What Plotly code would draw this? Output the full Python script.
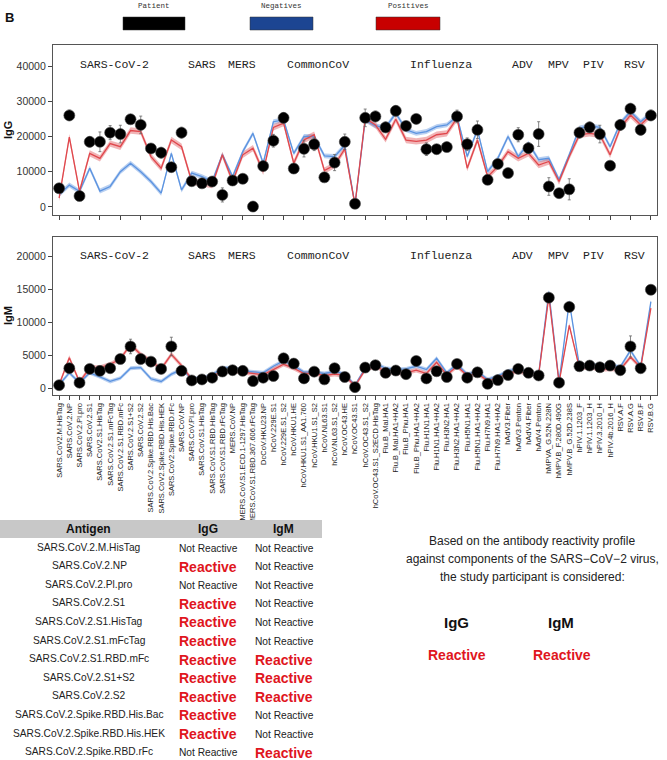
import plotly.graph_objects as go

W, H = 667, 760

ANTIGENS = [
    "SARS.CoV2.M.HisTag", "SARS.CoV.2.NP", "SARS.CoV.2.Pl.pro", "SARS.CoV.2.S1",
    "SARS.CoV2.S1.HisTag", "SARS.CoV.2.S1.mFcTag", "SARS.CoV.2.S1.RBD.mFc", "SARS.CoV.2.S1+S2",
    "SARS.CoV.2.S2", "SARS.CoV.2.Spike.RBD.His.Bac", "SARS.CoV2.Spike.RBD.His.HEK",
    "SARS.CoV2.Spike.RBD.rFc", "SARS.CoV.NP", "SARS.CoV.Pl.pro", "SARS.CoV.S1.HisTag",
    "SARS.CoV.S1.RBD.HisTag", "SARS.CoV.S1.RBD.rFcTag", "MERS.CoV.NP",
    "MERS.CoV.S1.ECD.1-1297.HisTag", "MERS.CoV.S1.RBD.367.606.rFcTag", "DcCoV.HKU23.NP",
    "hCoV.229E.S1", "hCoV.229E.S1_S2", "hCoV.HKU1.HE", "hCoV.HKU1.S1_AA1.760",
    "hCoV.HKU1.S1_S2", "hCoV.NL63.S1", "hCoV.NL63.S1_S2", "hCoV.OC43.HE", "hCoV.OC43.S1",
    "hCoV.OC43.S1_S2", "hCoV.OC43.S1_S2ECD.HisTag", "Flu.B_Mal.HA1", "Flu.B_Mal.HA1+HA2",
    "Flu.B_Phu.HA1", "Flu.B_Phu.HA1+HA2", "Flu.H1N1.HA1", "Flu.H1N1.HA1+HA2", "Flu.H3N2.HA1",
    "Flu.H3N2.HA1+HA2", "Flu.H5N1.HA1", "Flu.H5N1.HA1+HA2", "Flu.H7N9.HA1", "Flu.H7N9.HA1+HA2",
    "hAdV3.Fiber", "hAdV3.Penton", "hAdV4.Fiber", "hAdV4.Penton", "hMPVA_G.52N.228N",
    "hMPV.B_F.280D.490G", "hMPV.B_G.52D.238S", "hPIV.1.1203_F", "hPIV.1.1203_H",
    "hPIV.3.2010_H", "hPIV.4b.2016_H", "RSV.A.F", "RSV.A.G", "RSV.B.F", "RSV.B.G",
]

IGG_PATIENT = [5300, 26000, 3100, 18500, 18500, 21100, 20700, 24900, 23300, 16600, 15400, 11300,
               21100, 7300, 6700, 7200, 3400, 7500, 8000, 100, 11600, 18800, 25300, 10900, 16500,
               17800, 8400, 12600, 18500, 900, 25300, 25700, 22600, 27300, 23000, 25000, 16400,
               16400, 17000, 25700, 17800, 21900, 7700, 12200, 9600, 20500, 16700, 20700, 5800,
               3900, 5000, 21100, 22600, 20700, 11700, 23300, 27900, 21900, 26000]
IGG_PATIENT_ERR = [700, 1500, 800, 1500, 2800, 2000, 2500, 1200, 2500, 1000, 1500, 1000,
                   1500, 800, 700, 700, 2000, 800, 800, 500, 800, 1800, 1500, 1200, 2300,
                   1800, 1000, 2300, 2200, 500, 2500, 1500, 1500, 1500, 1200, 1200, 1800,
                   1000, 1000, 1800, 1800, 2500, 900, 1000, 1000, 2000, 1500, 3500, 2500,
                   1000, 3000, 1500, 1500, 2500, 1000, 1500, 1500, 1500, 1500]
IGG_POS = [2500, 19800, 4400, 15200, 13800, 18000, 17100, 21700, 21400, 14300, 11000, 19000,
           17100, 7200, 6700, 6200, 14800, 7200, 14800, 16700, 10000, 22600, 23800, 12400, 19000,
           20500, 10300, 11900, 16500, 600, 25200, 23300, 19200, 24900, 19000, 18600, 19000,
           20500, 20900, 25200, 11000, 19000, 8600, 11500, 15700, 13800, 15200, 11900, 12900,
           7200, 14300, 20500, 20900, 20500, 14800, 22400, 26100, 23300, 26100]
IGG_NEG = [3500, 6200, 4400, 11000, 4500, 5800, 10000, 12400, 10000, 7200, 3900, 15200,
           4800, 9600, 8600, 7200, 14800, 8600, 15700, 20900, 12400, 24200, 24700, 15200, 20000,
           20000, 14500, 14300, 17500, 600, 24700, 23000, 22600, 26600, 21900, 20900, 21400,
           22800, 23300, 25700, 14300, 21900, 10000, 13800, 20000, 14300, 18100, 13400, 13800,
           7700, 14800, 22400, 23000, 22600, 17100, 23800, 27100, 24200, 26600]

IGM_PATIENT = [430, 3000, 800, 2900, 2600, 3000, 4400, 6300, 4400, 4000, 2900, 6300,
               2600, 1150, 1300, 1560, 2500, 2700, 2600, 1050, 1560, 1820, 4500, 3700, 1460,
               2480, 1310, 3000, 1670, 130, 3100, 3460, 2300, 2650, 2100, 4100, 1460, 2540,
               1670, 3650, 1560, 2380, 640, 1200, 1970, 2900, 2300, 1900, 13700, 800, 12300,
               3300, 3400, 3150, 3400, 2700, 6300, 3000, 14900]
IGM_PATIENT_ERR = [300, 500, 300, 400, 400, 400, 500, 1100, 700, 400, 400, 1400,
                   400, 300, 300, 300, 400, 400, 400, 300, 300, 300, 500, 500, 300,
                   400, 300, 500, 300, 200, 400, 400, 400, 400, 300, 500, 300, 400,
                   300, 500, 300, 400, 300, 300, 300, 400, 400, 300, 600, 300, 700,
                   400, 400, 400, 400, 400, 1600, 400, 500]
IGM_POS = [500, 4600, 900, 3100, 3100, 3600, 4400, 6600, 5100, 4100, 2900, 5100,
           3400, 1300, 1300, 1800, 2500, 2600, 2400, 2200, 2000, 2800, 3600, 3000, 2200,
           2200, 1900, 2100, 1900, 300, 2800, 3300, 2500, 2300, 2300, 2700, 2200, 3900,
           2000, 3300, 1900, 2200, 1100, 1500, 2300, 2500, 2200, 2000, 13900, 800, 9500,
           3000, 3200, 2800, 2900, 2800, 4700, 3100, 12100]
IGM_NEG = [500, 2300, 800, 2300, 1700, 1000, 1500, 3000, 3100, 1400, 1000, 2100,
           2800, 1500, 1500, 2000, 3000, 3100, 2600, 2500, 2300, 3300, 4100, 3400, 2400,
           2400, 2200, 2500, 2100, 400, 3000, 3700, 3000, 2800, 2900, 3300, 2800, 4500,
           2300, 3600, 2100, 2500, 1300, 1800, 2600, 2900, 2400, 2100, 14600, 900, 13100,
           3300, 3600, 3400, 3500, 3200, 5700, 3300, 13100]

IGG_POS_BAND = 900
IGG_NEG_BAND = 700
IGM_POS_BAND = 350
IGM_NEG_BAND = 300

GROUPS = ["SARS-CoV-2", "SARS", "MERS", "CommonCoV", "Influenza", "ADV", "MPV", "PIV", "RSV"]
GROUP_POS = [5.4, 14.0, 17.9, 25.4, 37.4, 45.4, 48.9, 52.4, 56.4]

LEGEND_NAMES = ["Patient", "Negatives", "Positives"]
LEGEND_COLORS = ["#000000", "#1c4592", "#c80000"]

TABLE_ANTIGENS = [
    "SARS.CoV.2.M.HisTag", "SARS.CoV.2.NP", "SARS.CoV.2.Pl.pro", "SARS.CoV.2.S1",
    "SARS.CoV.2.S1.HisTag", "SARS.CoV.2.S1.mFcTag", "SARS.CoV.2.S1.RBD.mFc",
    "SARS.CoV.2.S1+S2", "SARS.CoV.2.S2", "SARS.CoV.2.Spike.RBD.His.Bac",
    "SARS.CoV.2.Spike.RBD.His.HEK", "SARS.CoV.2.Spike.RBD.rFc",
]
TABLE_IGG = ["Not Reactive", "Reactive", "Not Reactive", "Reactive", "Reactive", "Reactive",
             "Reactive", "Reactive", "Reactive", "Reactive", "Reactive", "Not Reactive"]
TABLE_IGM = ["Not Reactive", "Not Reactive", "Not Reactive", "Not Reactive", "Not Reactive",
             "Not Reactive", "Reactive", "Reactive", "Reactive", "Not Reactive",
             "Not Reactive", "Reactive"]

SUMMARY_LINES = ["Based on the antibody reactivity profile",
                 "against components of the SARS\u2212CoV\u22122 virus,",
                 "the study participant is considered:"]
SUMMARY_IGG = "Reactive"
SUMMARY_IGM = "Reactive"

SANS = "Liberation Sans, Arial, Helvetica, sans-serif"
MONO = "Liberation Mono, Courier New, monospace"
RED_TXT = "#e0161e"
POS_LINE = "#e0474c"
POS_FILL = "rgba(225,90,95,0.45)"
NEG_LINE = "#5b93e0"
NEG_FILL = "rgba(100,150,225,0.45)"


def px(x):
    return x / W


def py(y):
    return 1 - y / H


fig = go.Figure()


def add_panel(xa, ya, pat, err, pos, neg, pos_band, neg_band):
    lo_n = [v - neg_band for v in neg]
    hi_n = [v + neg_band for v in neg]
    lo_p = [v - pos_band for v in pos]
    hi_p = [v + pos_band for v in pos]
    for lo, hi, fc in [(lo_n, hi_n, NEG_FILL), (lo_p, hi_p, POS_FILL)]:
        fig.add_trace(go.Scatter(x=ANTIGENS, y=lo, mode="lines", line=dict(width=0),
                                 hoverinfo="skip", showlegend=False, xaxis=xa, yaxis=ya))
        fig.add_trace(go.Scatter(x=ANTIGENS, y=hi, mode="lines", line=dict(width=0),
                                 fill="tonexty", fillcolor=fc, hoverinfo="skip",
                                 showlegend=False, xaxis=xa, yaxis=ya))
    fig.add_trace(go.Scatter(x=ANTIGENS, y=neg, mode="lines", line=dict(color=NEG_LINE, width=1.3),
                             showlegend=False, xaxis=xa, yaxis=ya))
    fig.add_trace(go.Scatter(x=ANTIGENS, y=pos, mode="lines", line=dict(color=POS_LINE, width=1.3),
                             showlegend=False, xaxis=xa, yaxis=ya))
    fig.add_trace(go.Scatter(x=ANTIGENS, y=pat, mode="markers",
                             marker=dict(color="black", size=11,
                                         line=dict(color="#444", width=0.6)),
                             error_y=dict(type="data", array=err, color="#666",
                                          thickness=0.8, width=1.5),
                             showlegend=False, xaxis=xa, yaxis=ya))


add_panel("x", "y", IGG_PATIENT, IGG_PATIENT_ERR, IGG_POS, IGG_NEG, IGG_POS_BAND, IGG_NEG_BAND)
add_panel("x2", "y2", IGM_PATIENT, IGM_PATIENT_ERR, IGM_POS, IGM_NEG, IGM_POS_BAND, IGM_NEG_BAND)

xdom = [px(53), px(657)]
axis_common = dict(showline=True, mirror=True, linecolor="#555", linewidth=1.2,
                   showgrid=False, zeroline=False, ticks="outside", ticklen=4,
                   tickcolor="#444")

fig.update_layout(
    width=W, height=H, margin=dict(l=0, r=0, t=0, b=0),
    plot_bgcolor="white", paper_bgcolor="white",
    font=dict(family=SANS, color="#222"),
    showlegend=False,
    xaxis=dict(domain=xdom, anchor="y", type="category", categoryorder="array",
               categoryarray=ANTIGENS, range=[-0.6, 58.6], showticklabels=False,
               **axis_common),
    yaxis=dict(domain=[py(215), py(45)], anchor="x", range=[-2300, 46000],
               tickvals=[0, 10000, 20000, 30000, 40000], tickformat="d",
               tickfont=dict(size=10.5, color="#333"), **axis_common),
    xaxis2=dict(domain=xdom, anchor="y2", type="category", categoryorder="array",
                categoryarray=ANTIGENS, range=[-0.6, 58.6], tickangle=-90,
                tickfont=dict(size=7.5, color="#222"), **axis_common),
    yaxis2=dict(domain=[py(395), py(237)], anchor="x2", range=[-1060, 22900],
                tickvals=[0, 5000, 10000, 15000, 20000], tickformat="d",
                tickfont=dict(size=10.5, color="#333"), **axis_common),
)

ann = []
shapes = []

for g, gx in zip(GROUPS, GROUP_POS):
    for xr, yy in [("x", 64), ("x2", 255)]:
        ann.append(dict(x=gx, y=py(yy), xref=xr, yref="paper", text=g, showarrow=False,
                        font=dict(family=MONO, size=11.5, color="#222"),
                        xanchor="center", yanchor="middle"))

for t, yy in [("IgG", 130), ("IgM", 316)]:
    ann.append(dict(x=px(8), y=py(yy), xref="paper", yref="paper", text="<b>%s</b>" % t,
                    textangle=-90, showarrow=False, font=dict(size=11, color="#111"),
                    xanchor="center", yanchor="middle"))

ann.append(dict(x=px(9), y=py(18), xref="paper", yref="paper", text="<b>B</b>",
                showarrow=False, font=dict(size=13, color="#111"),
                xanchor="center", yanchor="middle"))

leg_x = [(123, 185), (250, 313), (376, 440)]
for name, col, (x0, x1) in zip(LEGEND_NAMES, LEGEND_COLORS, leg_x):
    shapes.append(dict(type="rect", xref="paper", yref="paper", x0=px(x0), x1=px(x1),
                       y0=py(30), y1=py(17), fillcolor=col, line=dict(color="#333", width=0.5)))
    ann.append(dict(x=px((x0 + x1) / 2), y=py(6), xref="paper", yref="paper", text=name,
                    showarrow=False, font=dict(family=MONO, size=7.5, color="#333"),
                    xanchor="center", yanchor="middle"))

shapes.append(dict(type="rect", xref="paper", yref="paper", x0=0, x1=px(322),
                   y0=py(538), y1=py(520), fillcolor="#c8c8c8", line=dict(width=0)))
for t, xx in [("Antigen", 88), ("IgG", 208), ("IgM", 283)]:
    ann.append(dict(x=px(xx), y=py(529), xref="paper", yref="paper", text="<b>%s</b>" % t,
                    showarrow=False, font=dict(size=12, color="#111"),
                    xanchor="center", yanchor="middle"))


def status_ann(s, xx, yy):
    if s == "Reactive":
        return dict(x=px(xx), y=py(yy), xref="paper", yref="paper", text="<b>Reactive</b>",
                    showarrow=False, font=dict(size=14, color=RED_TXT),
                    xanchor="center", yanchor="middle")
    return dict(x=px(xx), y=py(yy), xref="paper", yref="paper", text=s, showarrow=False,
                font=dict(size=10.2, color="#222"), xanchor="center", yanchor="middle")


for k, (a, g, m) in enumerate(zip(TABLE_ANTIGENS, TABLE_IGG, TABLE_IGM)):
    yy = 547 + 18.6 * k
    ann.append(dict(x=px(89), y=py(yy), xref="paper", yref="paper", text=a, showarrow=False,
                    font=dict(size=10.2, color="#222"), xanchor="center", yanchor="middle"))
    ann.append(status_ann(g, 208, yy + 1))
    ann.append(status_ann(m, 284, yy + 1))

for k, line in enumerate(SUMMARY_LINES):
    ann.append(dict(x=px(532), y=py(541 + 18 * k), xref="paper", yref="paper", text=line,
                    showarrow=False, font=dict(size=12, color="#222"),
                    xanchor="center", yanchor="middle"))
for t, xx in [("IgG", 456), ("IgM", 561)]:
    ann.append(dict(x=px(xx), y=py(622), xref="paper", yref="paper", text="<b>%s</b>" % t,
                    showarrow=False, font=dict(size=15, color="#111"),
                    xanchor="center", yanchor="middle"))
for s, xx in [(SUMMARY_IGG, 457), (SUMMARY_IGM, 562)]:
    ann.append(dict(x=px(xx), y=py(655), xref="paper", yref="paper", text="<b>%s</b>" % s,
                    showarrow=False, font=dict(size=14, color=RED_TXT),
                    xanchor="center", yanchor="middle"))

fig.update_layout(annotations=ann, shapes=shapes)
fig.write_html("out.html", config={"displayModeBar": False},
               post_script="document.body.style.margin='0';document.body.style.overflow='hidden';")
